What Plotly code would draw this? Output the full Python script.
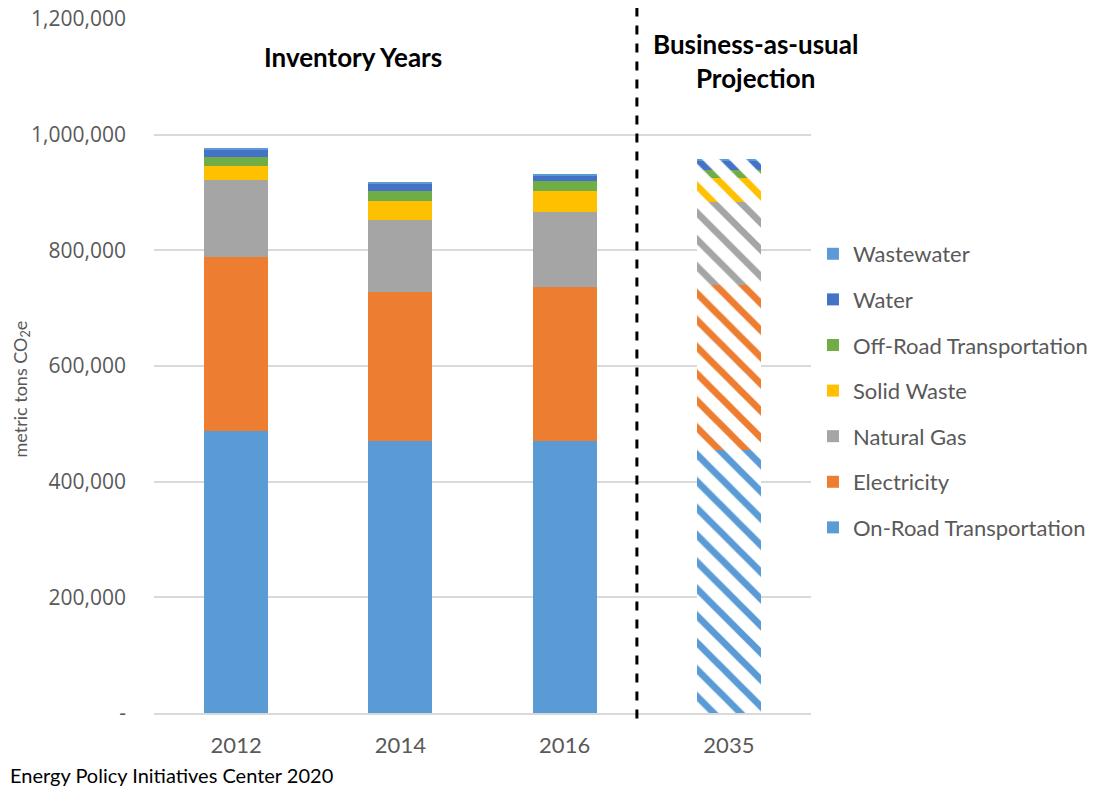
import plotly.graph_objects as go

years = ["2012", "2014", "2016", "2035"]
sectors = ["On-Road Transportation", "Electricity", "Natural Gas", "Solid Waste",
           "Off-Road Transportation", "Water", "Wastewater"]
on_road = [488000, 470000, 470000, 455000]
electricity = [300000, 258000, 267000, 285000]
natural_gas = [133000, 125000, 130000, 144000]
solid_waste = [25000, 33000, 35000, 41000]
off_road = [15000, 16000, 18000, 14000]
water = [12000, 13000, 9000, 16000]
wastewater = [3500, 3000, 3500, 2000]
values = [on_road, electricity, natural_gas, solid_waste, off_road, water, wastewater]
colors = ["#5B9BD5", "#ED7D31", "#A5A5A5", "#FFC000", "#70AD47", "#4472C4", "#5B9BD5"]
patterns = ["", "", "", "\\"]

tick_vals = [0, 200000, 400000, 600000, 800000, 1000000, 1200000]
tick_text = ["-", "200,000", "400,000", "600,000", "800,000", "1,000,000", "1,200,000"]

fig = go.Figure()
n = len(sectors)
for i, (name, vals, col) in enumerate(zip(sectors, values, colors)):
    fig.add_trace(go.Bar(
        x=years, y=vals, name=name, legendgroup=name, legendrank=n - i,
        marker=dict(color=col, line=dict(width=0),
                    pattern=dict(shape=patterns, fgcolor=col, bgcolor="white",
                                 fillmode="replace", size=19, solidity=0.36)),
    ))

fig.update_layout(
    barmode="stack", bargap=0.61,
    width=1095, height=789,
    margin=dict(l=154, r=284, t=19, b=76, autoexpand=False),
    plot_bgcolor="white", paper_bgcolor="white",
    font=dict(family="Lato, Open Sans, sans-serif", color="#595959"),
    legend=dict(x=1.003, y=0.464, xanchor="left", yanchor="middle",
                traceorder="grouped", tracegroupgap=14,
                font=dict(size=22, color="#595959")),
    showlegend=True,
)
fig.update_yaxes(range=[0, 1200000], tickvals=tick_vals, ticktext=tick_text,
                 showgrid=True, gridcolor="#D9D9D9", gridwidth=2, automargin=False,
                 zeroline=False, tickfont=dict(size=21, family="Open Sans", color="#595959"),
                 ticklabelstandoff=27)
fig.update_xaxes(range=[-0.5, 3.5], showline=True, linecolor="#D9D9D9", linewidth=2,
                 automargin=False, tickfont=dict(size=22, color="#595959"),
                 ticklabelstandoff=12)

fig.add_shape(type="line", xref="x", yref="paper", x0=2.44, x1=2.44, y0=-0.008, y1=1.016,
              line=dict(color="black", width=3, dash="dash"))

fig.add_annotation(x=0.71, y=0.945, xref="x", yref="paper", xanchor="center", yanchor="middle",
                   text="<b>Inventory Years</b>",
                   showarrow=False, font=dict(size=26, color="black"))
fig.add_annotation(x=3.16, y=0.9395, xref="x", yref="paper", xanchor="center", yanchor="middle",
                   text="<b>Business-as-usual<br>Projection</b>",
                   showarrow=False, font=dict(size=26, color="black"))
fig.add_annotation(x=-0.2015, y=0.467, xref="paper", yref="paper", xanchor="center", yanchor="middle",
                   text="metric tons CO<sub>2</sub>e", textangle=-90,
                   showarrow=False, font=dict(size=18, color="#595959"))
fig.add_annotation(x=-0.222, y=-0.0893, xref="paper", yref="paper", xanchor="left", yanchor="middle",
                   text="Energy Policy Initiatives Center 2020",
                   showarrow=False, font=dict(size=20, color="black"))

fig.write_html("out.html")
